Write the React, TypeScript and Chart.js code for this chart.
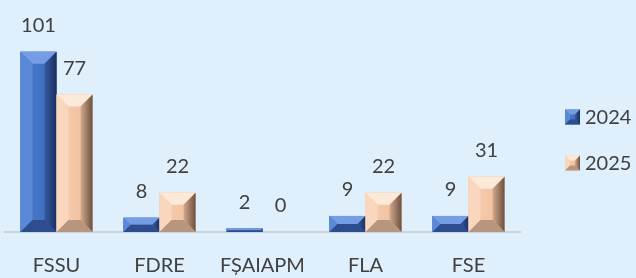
import { useEffect, useRef } from "react";
import { Chart, registerables } from "chart.js";

Chart.register(...registerables);

const categories = ["FSSU", "FDRE", "FȘAIAPM", "FLA", "FSE"];
const seriesNames = ["2024", "2025"];
const values2024 = [101, 8, 2, 9, 9];
const values2025 = [77, 22, 0, 22, 31];

const palettes = [
  { face: "#4472c4", faceL: "#4e7dd0", faceR: "#3e68b8", top: "#759de4", left: "#5a89d8", rightIn: "#34599f", rightOut: "#1a3060", bottom: "#2d4d8e" },
  { face: "#f3c6a5", faceL: "#f7d0b3", faceR: "#eebd9b", top: "#fde9d8", left: "#f9d7bf", rightIn: "#d4aa8c", rightOut: "#6a5040", bottom: "#b8957d" },
];

const TEXT = "#404040";
const FONT = "Lato, 'Open Sans', sans-serif";

function drawBevel(ctx: CanvasRenderingContext2D, l: number, t: number, r: number, b: number, p: any, maxB: number) {
  const h = b - t;
  const w = r - l;
  if (h <= 0.5 || w <= 0) return;
  const bv = Math.min(maxB, w / 2, h / 2);
  const g = ctx.createLinearGradient(l, 0, r, 0);
  g.addColorStop(0, p.faceL);
  g.addColorStop(0.5, p.face);
  g.addColorStop(1, p.faceR);
  ctx.fillStyle = g;
  ctx.fillRect(l, t, w, h);
  const poly = (pts: number[][], c: any) => {
    ctx.beginPath();
    ctx.moveTo(pts[0][0], pts[0][1]);
    for (let i = 1; i < pts.length; i++) ctx.lineTo(pts[i][0], pts[i][1]);
    ctx.closePath();
    ctx.fillStyle = c;
    ctx.fill();
  };
  poly([[l, t], [r, t], [r - bv, t + bv], [l + bv, t + bv]], p.top);
  poly([[l, t], [l + bv, t + bv], [l + bv, b - bv], [l, b]], p.left);
  const rg = ctx.createLinearGradient(r - bv, 0, r, 0);
  rg.addColorStop(0, p.rightIn);
  rg.addColorStop(1, p.rightOut);
  poly([[r, t], [r, b], [r - bv, b - bv], [r - bv, t + bv]], rg);
  poly([[l, b], [l + bv, b - bv], [r - bv, b - bv], [r, b]], p.bottom);
}

const bevelPlugin = {
  id: "bevel",
  afterDatasetsDraw(chart: any) {
    const ctx = chart.ctx as CanvasRenderingContext2D;
    ctx.save();
    chart.data.datasets.forEach((ds: any, di: number) => {
      const meta = chart.getDatasetMeta(di);
      meta.data.forEach((bar: any, i: number) => {
        const { x, y, base, width } = bar.getProps(["x", "y", "base", "width"], true);
        drawBevel(ctx, x - width / 2, Math.min(y, base), x + width / 2, Math.max(y, base), palettes[di], 12);
        ctx.fillStyle = TEXT;
        ctx.font = `20px ${FONT}`;
        ctx.textAlign = "center";
        ctx.textBaseline = "middle";
        ctx.fillText(String(ds.data[i]), x, Math.min(y, base) - 26);
      });
    });
    // legend
    const lx = 565;
    const ly = [117, 163];
    seriesNames.forEach((name, di) => {
      drawBevel(ctx, lx, ly[di] - 7.5, lx + 15, ly[di] + 7.5, palettes[di], 5);
      ctx.fillStyle = TEXT;
      ctx.font = `20px ${FONT}`;
      ctx.textAlign = "left";
      ctx.textBaseline = "middle";
      ctx.fillText(name, lx + 20, ly[di] + 1);
    });
    ctx.restore();
  },
};

export default function App() {
  const ref = useRef<HTMLCanvasElement | null>(null);
  useEffect(() => {
    if (!ref.current) return;
    const chart = new Chart(ref.current, {
      type: "bar",
      data: {
        labels: categories,
        datasets: [
          { label: seriesNames[0], data: values2024, backgroundColor: palettes[0].face },
          { label: seriesNames[1], data: values2025, backgroundColor: palettes[1].face },
        ],
      },
      options: {
        responsive: false,
        animation: false,
        events: [],
        layout: { padding: { left: 5, right: 116, top: 0, bottom: 0 } },
        datasets: { bar: { categoryPercentage: 0.7, barPercentage: 1 } },
        plugins: { legend: { display: false }, tooltip: { enabled: false } },
        scales: {
          x: {
            grid: { display: false, drawTicks: true, tickLength: 22 },
            border: { display: true, color: "#c9d3dc", width: 2 },
            ticks: { color: TEXT, font: { family: FONT, size: 20, lineHeight: 1.2 }, padding: 0, maxRotation: 0, autoSkip: false },
          },
          y: { display: false, min: 0, max: 130 },
        },
      },
      plugins: [bevelPlugin],
    });
    return () => chart.destroy();
  }, []);
  return (
    <div style={{ position: "fixed", left: 0, top: 0, width: 636, height: 278, background: "#dfeffb" }}>
      <canvas ref={ref} width={636} height={278} style={{ display: "block" }} />
    </div>
  );
}
